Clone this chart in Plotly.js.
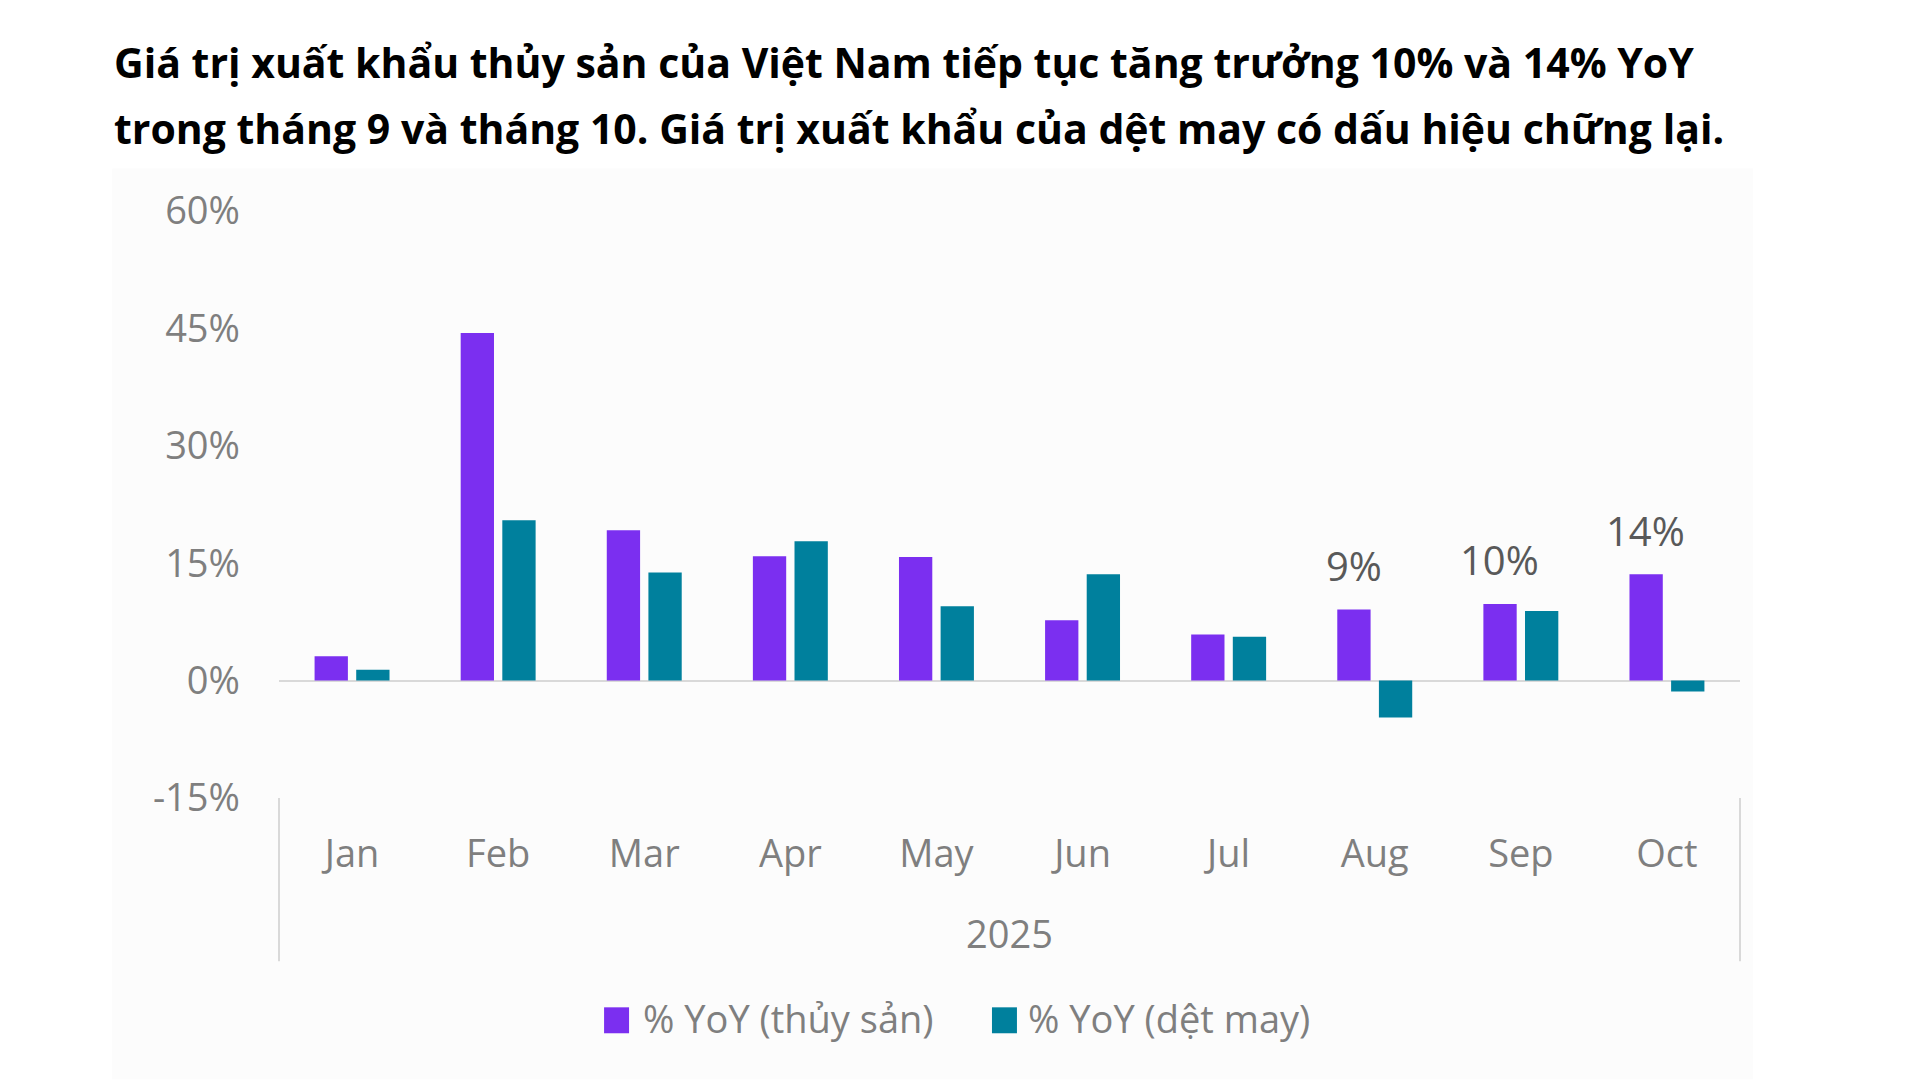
<!DOCTYPE html>
<html>
<head>
<meta charset="utf-8">
<script src="https://cdn.plot.ly/plotly-3.0.1.min.js"></script>
<style>
html,body{margin:0;padding:0;background:#ffffff;}
#chart{width:1920px;height:1080px;}
</style>
</head>
<body>
<div id="chart"></div>
<script>
// ---- data ----
const months = ["Jan","Feb","Mar","Apr","May","Jun","Jul","Aug","Sep","Oct"];
const yearLabel = "2025";
const seafoodYoY = [3.1, 44.4, 19.2, 15.9, 15.8, 7.7, 5.9, 9.1, 9.8, 13.6];
const textileYoY = [1.4, 20.5, 13.8, 17.8, 9.5, 13.6, 5.6, -4.7, 8.9, -1.4];
const seafoodLabels = ["", "", "", "", "", "", "", "9%", "10%", "14%"];
const seriesNames = ["% YoY (thủy sản)", "% YoY (dệt may)"];
const yTickVals = [-15, 0, 15, 30, 45, 60];
const yTickText = ["-15%", "0%", "15%", "30%", "45%", "60%"];
const titleLines = [
  "Giá trị xuất khẩu thủy sản của Việt Nam tiếp tục tăng trưởng 10% và 14% YoY",
  "trong tháng 9 và tháng 10. Giá trị xuất khẩu của dệt may có dấu hiệu chững lại."
];

const FONT = "Open Sans, Noto Sans, sans-serif";
const colors = ["#7B2FF0", "#00809D"];
const GRAY = "#7f7f7f";

const traces = [
  {type:"bar", name:seriesNames[0], x:months, y:seafoodYoY, marker:{color:colors[0]}, hoverinfo:"none", showlegend:false},
  {type:"bar", name:seriesNames[1], x:months, y:textileYoY, marker:{color:colors[1]}, hoverinfo:"none", showlegend:false}
];

const annotations = [];
months.forEach((m,i)=>{
  if (seafoodLabels[i]) {
    annotations.push({x:m, y:seafoodYoY[i], xref:"x", yref:"y", text:seafoodLabels[i],
      showarrow:false, xshift:-21, yshift:44, yanchor:"middle",
      font:{family:FONT, size:40, color:"#595959"}});
  }
});
annotations.push({x:0.5, y:-0.2307, xref:"paper", yref:"paper", text:yearLabel, showarrow:false,
  xanchor:"center", yanchor:"middle", font:{family:FONT, size:38, color:GRAY}});
annotations.push({x:-0.1143, y:1.2545, xref:"paper", yref:"paper", text:"<b>"+titleLines[0]+"</b>", showarrow:false,
  xanchor:"left", yanchor:"middle", font:{family:FONT, size:41, color:"#000000"}});
annotations.push({x:-0.1143, y:1.1422, xref:"paper", yref:"paper", text:"<b>"+titleLines[1]+"</b>", showarrow:false,
  xanchor:"left", yanchor:"middle", font:{family:FONT, size:41, color:"#000000"}});

// manual legend (larger square swatches, as in the reference)
const legendX = [[0.2225, 0.2396, 0.2478], [0.4880, 0.5051, 0.5113]];
const legendY = -0.3787, half = 0.0221;
const shapes = [
  {type:"rect", xref:"paper", yref:"paper", x0:-0.1143, x1:1.0089, y0:-0.479, y1:1.0725,
    fillcolor:"#fcfcfc", line:{width:0}, layer:"below"},
  {type:"line", xref:"paper", yref:"paper", x0:0, x1:0, y0:0, y1:-0.278, line:{color:"#d9d9d9", width:2}},
  {type:"line", xref:"paper", yref:"paper", x0:1, x1:1, y0:0, y1:-0.278, line:{color:"#d9d9d9", width:2}}
];
seriesNames.forEach((n,i)=>{
  shapes.push({type:"rect", xref:"paper", yref:"paper", x0:legendX[i][0], x1:legendX[i][1],
    y0:legendY-half, y1:legendY+half, fillcolor:colors[i], line:{width:0}});
  annotations.push({x:legendX[i][2], y:legendY, xref:"paper", yref:"paper", text:n, showarrow:false,
    xanchor:"left", yanchor:"middle", yshift:2, font:{family:FONT, size:38, color:GRAY}});
});

const layout = {
  width:1920, height:1080,
  paper_bgcolor:"#ffffff", plot_bgcolor:"rgba(0,0,0,0)",
  margin:{l:279, r:180, t:211, b:282, pad:0},
  barmode:"group", bargap:0.43, bargroupgap:0.2,
  showlegend:false,
  xaxis:{type:"category", showgrid:false, zeroline:false, showline:false, ticks:"",
    tickfont:{family:FONT, size:38, color:GRAY}, ticklabelstandoff:30, range:[-0.5, 9.5], fixedrange:true},
  yaxis:{range:[-15,60], tickvals:yTickVals, ticktext:yTickText, showgrid:false, zeroline:true,
    zerolinecolor:"#d9d9d9", zerolinewidth:2, showline:false, ticks:"",
    tickfont:{family:FONT, size:38, color:GRAY}, ticklabelstandoff:38, fixedrange:true},
  shapes:shapes,
  annotations:annotations
};

Plotly.newPlot("chart", traces, layout, {displayModeBar:false, staticPlot:true});
</script>
</body>
</html>
